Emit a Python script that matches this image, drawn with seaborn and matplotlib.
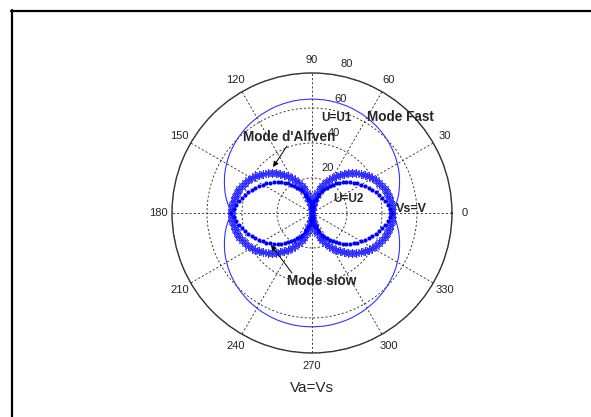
import numpy as np
import pandas as pd
import matplotlib
matplotlib.use("Agg")
import matplotlib.pyplot as plt
import matplotlib.transforms as mtransforms
from matplotlib.lines import Line2D
from matplotlib.patches import FancyArrowPatch
import seaborn as sns

# Phase speeds over one quadrant (angle to the field, degrees, 3-degree step);
# the other three quadrants are mirror images of this one.
angle_quarter = list(range(0, 93, 3))

alfven_quarter = [46.0, 45.9, 45.7, 45.4, 45.0, 44.4, 43.8, 42.9, 42.0, 41.0,
                  39.8, 38.6, 37.2, 35.7, 34.2, 32.5, 30.8, 28.9, 27.0, 25.1,
                  23.0, 20.9, 18.7, 16.5, 14.2, 11.9, 9.6, 7.2, 4.8, 2.4, 0.0]

slow_quarter = [46.0, 44.8, 43.5, 42.3, 40.9, 39.6, 38.2, 36.8, 35.4, 34.0,
                32.5, 31.0, 29.5, 28.0, 26.5, 24.9, 23.3, 21.7, 20.1, 18.5,
                16.8, 15.2, 13.5, 11.9, 10.2, 8.5, 6.8, 5.1, 3.4, 1.7, 0.0]

fast_quarter = [46.0, 47.2, 48.3, 49.5, 50.6, 51.6, 52.6, 53.6, 54.6, 55.5,
                56.3, 57.2, 58.0, 58.7, 59.4, 60.1, 60.7, 61.3, 61.9, 62.4,
                62.8, 63.3, 63.6, 64.0, 64.3, 64.5, 64.7, 64.9, 65.0, 65.0,
                65.1]

angle_ticks = list(range(0, 360, 30))
radius_ticks = [20, 40, 60, 80]

# unfold the quadrant tables onto the full circle
step = angle_quarter[1] - angle_quarter[0]
deg_full = np.arange(0, 360 + step, step)
folded = np.where(deg_full % 180 <= 90, deg_full % 180, 180 - deg_full % 180)
idx = (folded // step).astype(int)
curves = pd.DataFrame({
    "theta": np.radians(deg_full),
    "fast": np.asarray(fast_quarter)[idx],
    "alfven": np.asarray(alfven_quarter)[idx],
    "slow": np.asarray(slow_quarter)[idx],
})

sns.set_style("white")
plt.rcParams["font.family"] = ["Liberation Sans", "DejaVu Sans"]

fig = plt.figure(figsize=(5.91, 4.17), dpi=100)
ax = fig.add_axes([0.291, 0.1535, 0.4738, 0.6715], projection="polar")
ax.set_facecolor("white")

sns.lineplot(data=curves, x="theta", y="fast", ax=ax, sort=False,
             estimator=None, color="#3333ff", linewidth=0.8)
sns.lineplot(data=curves, x="theta", y="alfven", ax=ax, sort=False,
             estimator=None, color="#2f2fff", linestyle="none",
             marker=(8, 2, 0), markersize=6, markeredgewidth=0.75,
             markeredgecolor="#2f2fff")
sns.lineplot(data=curves, x="theta", y="slow", ax=ax, sort=False,
             estimator=None, color="#0000ff", linestyle="none",
             marker="o", markersize=3.0, markeredgewidth=0,
             markeredgecolor="#0000ff")

ax.set_ylim(0, 80)
ax.set_xlabel("")
ax.set_ylabel("")
ax.set_xticks(np.radians(angle_ticks))
ax.set_xticklabels([])
ax.set_yticks(radius_ticks)
ax.set_yticklabels([])
ax.grid(True, color="#222222", linestyle=(0, (2.5, 2.5)), linewidth=0.6)
ax.spines["polar"].set_color("#333333")
ax.spines["polar"].set_linewidth(1.0)

for a in angle_ticks:
    ax.text(np.radians(a), 87.5, str(a), ha="center", va="center",
            fontsize=8, color="#222222", clip_on=False)

rlab = mtransforms.offset_copy(ax.transData, fig=fig, x=10, y=11, units="dots")
for r in radius_ticks:
    ax.text(np.radians(80), r, str(r), transform=rlab, ha="center",
            va="center", fontsize=8, color="#222222", clip_on=False)

W, H = 591.0, 417.0


def fp(x, y):
    return (x / W, 1 - y / H)


fig.text(*fp(336, 118), "U=U1", ha="center", va="center", fontsize=8.5,
         fontweight="bold")
fig.text(*fp(400, 117), "Mode Fast", ha="center", va="center", fontsize=9.8,
         fontweight="bold")
fig.text(*fp(289, 137), "Mode d'Alfven", ha="center", va="center",
         fontsize=9.8, fontweight="bold")
fig.text(*fp(348, 199), "U=U2", ha="center", va="center", fontsize=8.5,
         fontweight="bold")
fig.text(*fp(411, 209), "Vs=V", ha="center", va="center", fontsize=9,
         fontweight="bold")
fig.text(*fp(322, 281), "Mode slow", ha="center", va="center", fontsize=9.8,
         fontweight="bold")
fig.text(*fp(312, 388), "Va=Vs", ha="center", va="center", fontsize=11)

arrow = dict(arrowstyle="-|>", color="black", lw=0.7, mutation_scale=8,
             shrinkA=0, shrinkB=0)
fig.add_artist(FancyArrowPatch(fp(287, 146), fp(273, 167),
                               transform=fig.transFigure, **arrow))
fig.add_artist(FancyArrowPatch(fp(292, 273), fp(271, 245),
                               transform=fig.transFigure, **arrow))

# window frame
fig.add_artist(Line2D([12 / W, 12 / W], [0, 1 - 10 / H], color="black",
                      lw=1.6, transform=fig.transFigure))
fig.add_artist(Line2D([11 / W, 1.0], [1 - 10.5 / H, 1 - 10.5 / H],
                      color="black", lw=1.6, transform=fig.transFigure))

fig.savefig("out.png", dpi=100)
